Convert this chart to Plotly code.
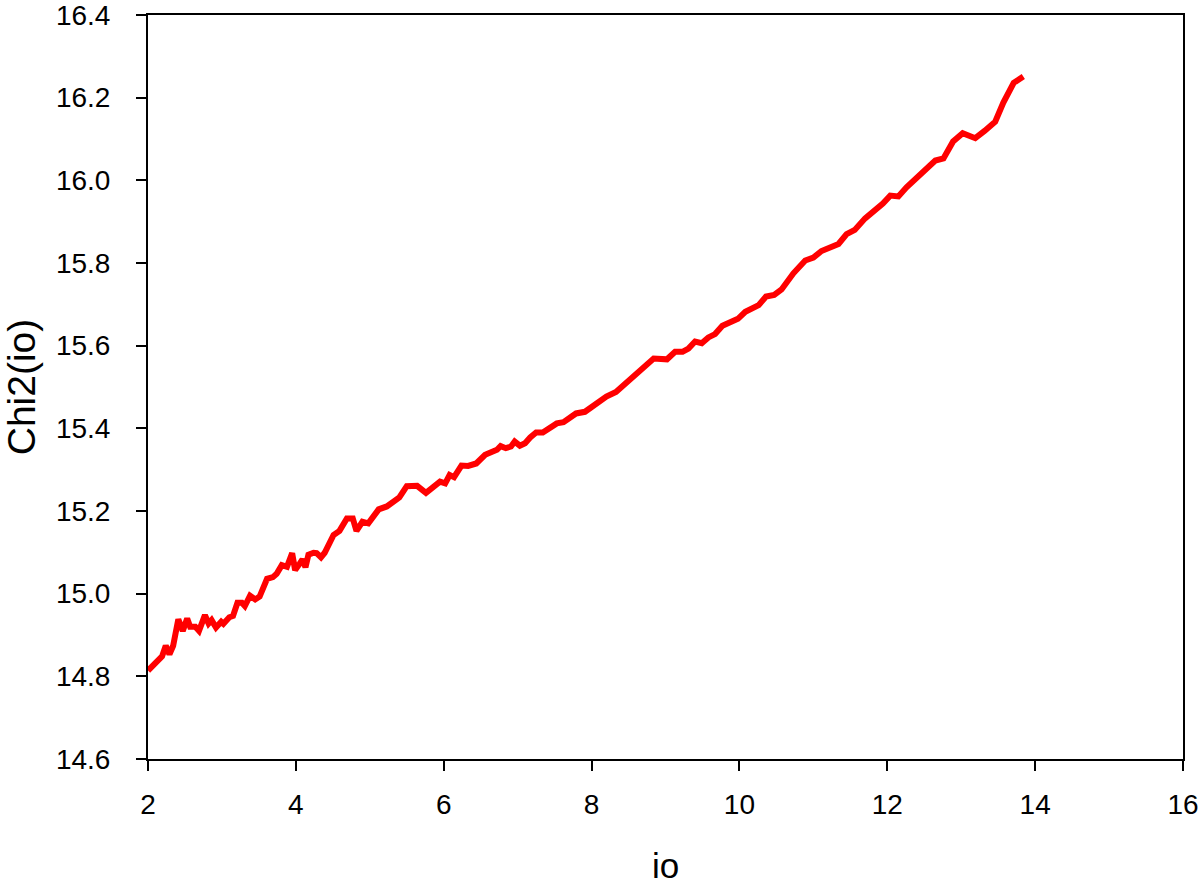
import plotly.graph_objects as go

io_vals = [2.00, 2.11, 2.19, 2.24, 2.29, 2.34, 2.41, 2.47, 2.53, 2.57, 2.64, 2.69, 2.77, 2.82, 2.86,
           2.92, 2.99, 3.02, 3.10, 3.15, 3.21, 3.27, 3.31, 3.38, 3.45, 3.51, 3.61, 3.69, 3.74, 3.81,
           3.88, 3.95, 3.99, 4.05, 4.09, 4.13, 4.17, 4.24, 4.28, 4.34, 4.39, 4.51, 4.59, 4.69, 4.77,
           4.82, 4.90, 4.98, 5.12, 5.23, 5.32, 5.40, 5.50, 5.64, 5.76, 5.86, 5.95, 6.02, 6.08, 6.14,
           6.24, 6.33, 6.44, 6.56, 6.65, 6.72, 6.77, 6.84, 6.91, 6.96, 7.03, 7.10, 7.17, 7.25, 7.34,
           7.41, 7.53, 7.62, 7.70, 7.79, 7.91, 8.00, 8.10, 8.20, 8.33, 8.42, 8.51, 8.63, 8.74, 8.84,
           9.02, 9.13, 9.23, 9.31, 9.40, 9.49, 9.58, 9.67, 9.77, 9.87, 9.98, 10.08, 10.19, 10.26,
           10.36, 10.47, 10.57, 10.73, 10.89, 11.00, 11.11, 11.21, 11.34, 11.45, 11.56, 11.70,
           11.88, 11.94, 12.04, 12.15, 12.26, 12.40, 12.53, 12.65, 12.76, 12.89, 13.02, 13.19,
           13.32, 13.46, 13.57, 13.71, 13.84]

chi2_vals = [14.814, 14.832, 14.848, 14.874, 14.853, 14.874, 14.938, 14.910, 14.940, 14.920, 14.920,
             14.910, 14.948, 14.928, 14.936, 14.918, 14.932, 14.927, 14.943, 14.946, 14.978, 14.978,
             14.970, 14.995, 14.986, 14.993, 15.036, 15.040, 15.048, 15.069, 15.065, 15.098, 15.057,
             15.072, 15.083, 15.064, 15.094, 15.099, 15.098, 15.088, 15.099, 15.142, 15.152, 15.182,
             15.182, 15.152, 15.174, 15.170, 15.204, 15.211, 15.225, 15.233, 15.260, 15.261, 15.244,
             15.259, 15.271, 15.267, 15.287, 15.282, 15.310, 15.309, 15.315, 15.336, 15.344, 15.348,
             15.357, 15.352, 15.356, 15.368, 15.358, 15.364, 15.378, 15.390, 15.390, 15.397, 15.412,
             15.415, 15.423, 15.436, 15.440, 15.451, 15.462, 15.477, 15.488, 15.502, 15.517, 15.532,
             15.549, 15.569, 15.567, 15.585, 15.585, 15.593, 15.610, 15.606, 15.620, 15.628, 15.648,
             15.656, 15.665, 15.682, 15.694, 15.698, 15.719, 15.723, 15.736, 15.775, 15.806, 15.813,
             15.829, 15.838, 15.846, 15.870, 15.880, 15.908, 15.932, 15.944, 15.963, 15.961, 15.983,
             16.007, 16.029, 16.048, 16.053, 16.094, 16.114, 16.102, 16.120, 16.142, 16.188, 16.236,
             16.251]

x_ticks = [2, 4, 6, 8, 10, 12, 14, 16]
y_ticks = [14.6, 14.8, 15.0, 15.2, 15.4, 15.6, 15.8, 16.0, 16.2, 16.4]
y_tick_labels = ["14.6", "14.8", "15.0", "15.2", "15.4", "15.6", "15.8", "16.0", "16.2", "16.4"]

fig = go.Figure()
fig.add_trace(go.Scatter(
    x=io_vals, y=chi2_vals, mode="lines",
    line=dict(color="#ff0000", width=6, shape="linear"),
    showlegend=False, hoverinfo="skip",
))

font_family = "Liberation Sans, Arial, sans-serif"

# figure is 20px taller and shifted up 20px on the page so the top tick label stays inside the div
fig.update_layout(
    width=1200, height=905,
    margin=dict(l=148, r=17, t=35, b=126, autoexpand=False),
    paper_bgcolor="white", plot_bgcolor="white",
    font=dict(family=font_family, color="black", size=26),
    xaxis=dict(
        range=[2, 16], tickvals=x_ticks, ticktext=[str(v) for v in x_ticks],
        showline=True, linecolor="black", linewidth=2, mirror=True,
        ticks="outside", ticklen=10, tickwidth=2, tickcolor="black",
        ticklabelstandoff=9, automargin=False,
        showgrid=False, zeroline=False,
        tickfont=dict(size=28),
        title=dict(text="io", font=dict(size=35), standoff=41),
    ),
    yaxis=dict(
        range=[14.6, 16.4], tickvals=y_ticks, ticktext=y_tick_labels,
        showline=True, linecolor="black", linewidth=2, mirror=True,
        ticks="outside", ticklen=10, tickwidth=2, tickcolor="black",
        ticklabelstandoff=20, automargin=False,
        showgrid=False, zeroline=False,
        tickfont=dict(size=28),
        title=dict(text="Chi2(io)", font=dict(size=39), standoff=11),
    ),
)

fig.write_html(
    "out.html",
    config={"displayModeBar": False},
    post_script=("document.body.style.margin='0';"
                 "document.body.style.marginTop='-20px';"
                 "document.body.style.overflow='hidden';"),
)
